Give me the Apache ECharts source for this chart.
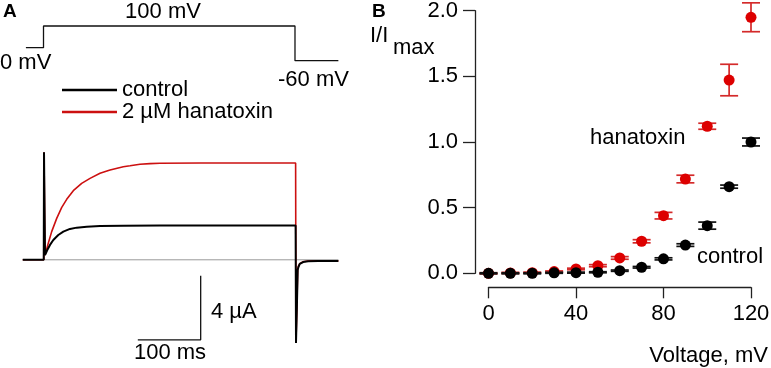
<!DOCTYPE html>
<html>
<head>
<meta charset="utf-8">
<script src="https://cdn.jsdelivr.net/npm/echarts@6/dist/echarts.min.js"></script>
<style>html,body{margin:0;padding:0;background:#fff;}#c{width:771px;height:368px;}</style>
</head>
<body>
<div id="c"></div>
<script>
// ---- Panel A: voltage protocol (time ms, voltage mV)
const protocolT = [-28, 0, 0, 400, 400, 469];
const protocolV = [0, 0, 100, 100, -60, -60];

// ---- Panel A: current traces (time ms, current µA)
const controlTraceT = [-33, 0.4, 0.8, 2.4, 6.0, 10.3, 15.6, 23.5, 31.5, 42.1, 52.8, 68.7, 89.9, 127, 185, 260, 330, 401, 401.6, 403, 404.3, 405.5, 407.6, 412.9, 420.9, 436.8, 469];
const controlTraceI = [0, 0, 6.72, 0.30, 0.61, 0.93, 1.24, 1.55, 1.76, 1.93, 2.01, 2.07, 2.11, 2.13, 2.15, 2.15, 2.15, 2.15, -5.2, -3.0, -0.64, -0.45, -0.26, -0.14, -0.09, -0.08, -0.08];
const hanaTraceT = [-33, 0.4, 0.8, 2.4, 7.6, 13.0, 21.0, 29.0, 36.9, 47.4, 60.7, 74.0, 89.9, 105.8, 126.9, 137.6, 153.5, 169.4, 185.3, 250, 330, 401, 401.6, 403, 404.3, 405.5, 407.6, 412.9, 420.9, 436.8, 469];
const hanaTraceI = [0, 0, 6.72, 0.30, 1.03, 1.76, 2.59, 3.28, 3.78, 4.32, 4.78, 5.09, 5.41, 5.61, 5.82, 5.88, 5.97, 6.01, 6.03, 6.05, 6.05, 6.05, -5.1, -2.9, -0.6, -0.4, -0.24, -0.12, -0.08, -0.07, -0.07];
const zeroLineT = [-33, 469];
const scaleBarT = [150, 250, 250];   // 100 ms
const scaleBarI = [-5, -5, -1];      // 4 µA

// ---- Panel B: normalized I-V
const voltages = [0, 10, 20, 30, 40, 50, 60, 70, 80, 90, 100, 110, 120];
const controlMean = [0, 0, 0, 0.004, 0.005, 0.008, 0.02, 0.046, 0.11, 0.215, 0.363, 0.66, 1.0];
const controlErr  = [0.004, 0.004, 0.004, 0.004, 0.004, 0.004, 0.005, 0.006, 0.008, 0.01, 0.027, 0.012, 0.03];
const hanaMean = [0, 0.003, 0.005, 0.013, 0.033, 0.058, 0.117, 0.244, 0.439, 0.718, 1.12, 1.472, 1.95];
const hanaErr  = [0.004, 0.004, 0.004, 0.005, 0.006, 0.008, 0.01, 0.012, 0.025, 0.029, 0.023, 0.12, 0.11];
const xTicks = [0, 40, 80, 120];
const yTicks = [0, 0.5, 1.0, 1.5, 2.0];

const FONT = '"Liberation Sans", Arial, sans-serif';
const FS = 22;
const RED = '#dd0000';
const RED_TRACE = '#cc1010';
const RED_BAR = '#d42a2a';

const zip = (a, b) => a.map((v, i) => [v, b[i]]);

function errRender(color) {
  return function (params, api) {
    const x = api.value(0), m = api.value(1), e = api.value(2);
    const top = api.coord([x, m + e]);
    const bot = api.coord([x, m - e]);
    const hw = 9;
    const st = { stroke: color, lineWidth: 1.7 };
    return {
      type: 'group',
      children: [
        { type: 'line', shape: { x1: top[0], y1: top[1], x2: bot[0], y2: bot[1] }, style: st },
        { type: 'line', shape: { x1: top[0] - hw, y1: top[1], x2: top[0] + hw, y2: top[1] }, style: st },
        { type: 'line', shape: { x1: bot[0] - hw, y1: bot[1], x2: bot[0] + hw, y2: bot[1] }, style: st }
      ]
    };
  };
}

function txt(text, x, y, opts) {
  opts = opts || {};
  return {
    type: 'text', x: x, y: y, silent: true,
    style: {
      text: text,
      font: (opts.bold ? 'bold ' : '') + (opts.size || FS) + 'px ' + FONT,
      fill: '#000',
      align: opts.align || 'left',
      verticalAlign: 'middle'
    }
  };
}

const chart = echarts.init(document.getElementById('c'), null, { renderer: 'canvas' });
const hiddenAxis = { show: false };

chart.setOption({
  animation: false,
  backgroundColor: '#fff',
  textStyle: { fontFamily: FONT },
  grid: [
    { left: 21.5, top: 15.15, width: 317.5, height: 54.25, outerBoundsMode: 'none' },
    { left: 21.5, top: 147.8, width: 317.5, height: 208, outerBoundsMode: 'none' },
    { left: 488.5, top: 10.7, width: 262.5, height: 262.6, outerBoundsMode: 'none' }
  ],
  xAxis: [
    { gridIndex: 0, type: 'value', min: -35, max: 470, ...hiddenAxis },
    { gridIndex: 1, type: 'value', min: -35, max: 470, ...hiddenAxis },
    {
      gridIndex: 2, type: 'value', min: xTicks[0], max: xTicks[xTicks.length - 1], interval: 40,
      offset: 14,
      axisLine: { show: true, onZero: false, lineStyle: { color: '#222', width: 1.3 } },
      axisTick: { show: true, length: 11, lineStyle: { color: '#222', width: 1.3 } },
      axisLabel: { color: '#000', fontSize: FS, margin: 16, fontFamily: FONT },
      splitLine: { show: false }
    }
  ],
  yAxis: [
    { gridIndex: 0, type: 'value', min: -100, max: 150, ...hiddenAxis },
    { gridIndex: 1, type: 'value', min: -6, max: 7, ...hiddenAxis },
    {
      gridIndex: 2, type: 'value', min: yTicks[0], max: yTicks[yTicks.length - 1], interval: 0.5,
      offset: 13.5,
      axisLine: { show: true, onZero: false, lineStyle: { color: '#222', width: 1.3 } },
      axisTick: { show: true, length: 12, lineStyle: { color: '#222', width: 1.3 } },
      axisLabel: { color: '#000', fontSize: FS, margin: 17, fontFamily: FONT, formatter: v => v.toFixed(1) },
      splitLine: { show: false }
    }
  ],
  legend: {
    left: 62, top: 79, padding: 0, orient: 'vertical', itemGap: 0, itemWidth: 55, itemHeight: 2.5,
    selectedMode: false,
    textStyle: { fontSize: FS, lineHeight: 20, color: '#000', fontFamily: FONT },
    data: [{ name: 'control', icon: 'rect' }, { name: '2 µM hanatoxin', icon: 'rect' }]
  },
  series: [
    { name: 'protocol', type: 'line', xAxisIndex: 0, yAxisIndex: 0, data: zip(protocolT, protocolV),
      symbol: 'none', color: '#111', lineStyle: { width: 1.3, color: '#111' } },
    { name: 'baseline', type: 'line', xAxisIndex: 1, yAxisIndex: 1, data: zip(zeroLineT, [0, 0]),
      symbol: 'none', color: '#999', lineStyle: { width: 1, color: '#999' } },
    { name: '2 µM hanatoxin', type: 'line', xAxisIndex: 1, yAxisIndex: 1, data: zip(hanaTraceT, hanaTraceI),
      symbol: 'none', color: RED_TRACE, lineStyle: { width: 1.6, color: RED_TRACE } },
    { name: 'control', type: 'line', xAxisIndex: 1, yAxisIndex: 1, data: zip(controlTraceT, controlTraceI),
      symbol: 'none', color: '#000', lineStyle: { width: 2, color: '#000' } },
    { name: 'scalebar', type: 'line', xAxisIndex: 1, yAxisIndex: 1, data: zip(scaleBarT, scaleBarI),
      symbol: 'none', color: '#111', lineStyle: { width: 1.3, color: '#111' } },
    { name: 'hanatoxin err', type: 'custom', xAxisIndex: 2, yAxisIndex: 2,
      data: voltages.map((v, i) => [v, hanaMean[i], hanaErr[i]]),
      encode: { x: 0, y: 1 }, renderItem: errRender(RED_BAR) },
    { name: 'hanatoxin I/Imax', type: 'scatter', xAxisIndex: 2, yAxisIndex: 2,
      data: zip(voltages, hanaMean), symbolSize: 11, itemStyle: { color: RED, opacity: 1 } },
    { name: 'control err', type: 'custom', xAxisIndex: 2, yAxisIndex: 2,
      data: voltages.map((v, i) => [v, controlMean[i], controlErr[i]]),
      encode: { x: 0, y: 1 }, renderItem: errRender('#111') },
    { name: 'control I/Imax', type: 'scatter', xAxisIndex: 2, yAxisIndex: 2,
      data: zip(voltages, controlMean), symbolSize: 11, itemStyle: { color: '#000', opacity: 1 } }
  ],
  graphic: [
    txt('A', 3, 12, { bold: true, size: 19 }),
    txt('100 mV', 163, 12, { align: 'center' }),
    txt('0 mV', 0, 63),
    txt('-60 mV', 278, 80),
    txt('4 µA', 211, 312),
    txt('100 ms', 170, 353, { align: 'center' }),
    txt('B', 372, 12, { bold: true, size: 19 }),
    txt('I/I', 370, 36),
    txt('max', 393, 48),
    txt('hanatoxin', 590, 138),
    txt('control', 697, 257),
    txt('Voltage, mV', 768, 356, { align: 'right' })
  ]
});
</script>
</body>
</html>
